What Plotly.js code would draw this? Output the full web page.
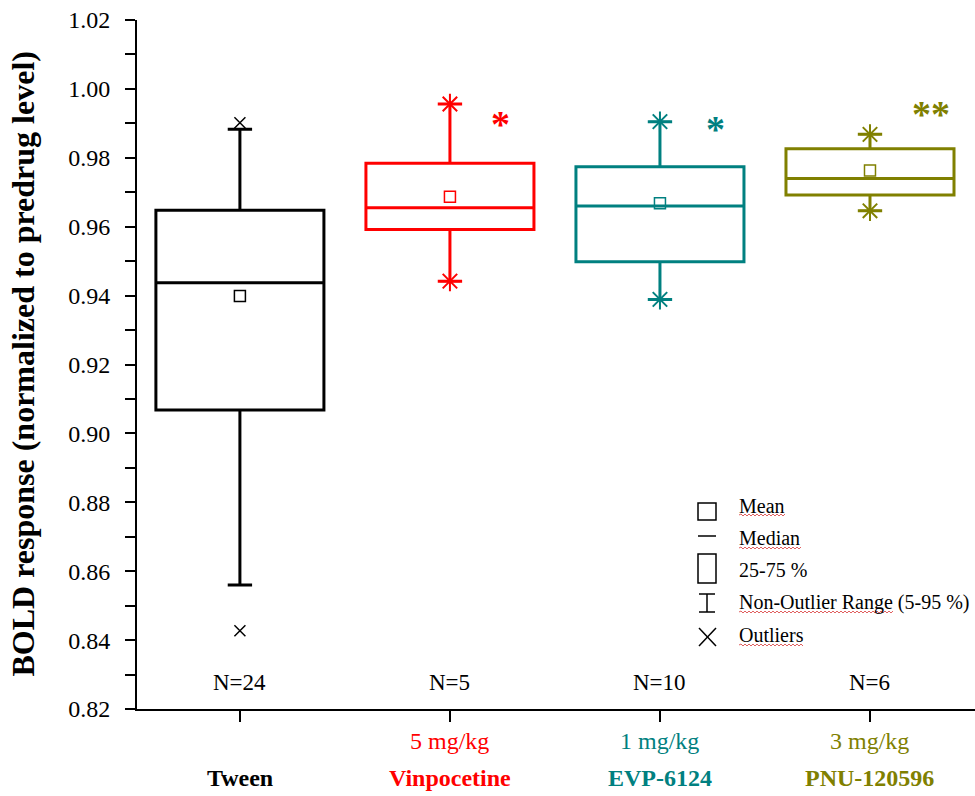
<!DOCTYPE html>
<html>
<head>
<meta charset="utf-8">
<script src="https://cdn.plot.ly/plotly-3.0.1.min.js"></script>
<style>
  html, body { margin: 0; padding: 0; background: #ffffff; }
  #chart { width: 975px; height: 796px; }
</style>
</head>
<body>
<div id="chart"></div>
<script>
// Groups and box statistics (BOLD response, normalized to predrug level)
const groups = ['Tween', 'Vinpocetine', 'EVP-6124', 'PNU-120596'];
const doses = ['', '5 mg/kg', '1 mg/kg', '3 mg/kg'];
const colors = ['#000000', '#ff0000', '#008080', '#808000'];
const nLabels = ['N=24', 'N=5', 'N=10', 'N=6'];
const stars = ['', '*', '*', '**'];

const q1 = [0.9068, 0.9592, 0.9498, 0.9692];
const median = [0.9437, 0.9655, 0.9660, 0.9740];
const q3 = [0.9648, 0.9784, 0.9774, 0.9826];
const mean = [0.9399, 0.9687, 0.9668, 0.9763];
const whiskerLow = [0.8560, 0.9442, 0.9389, 0.9646];
const whiskerHigh = [0.9883, 0.9956, 0.9905, 0.9868];

// Outlying values for the Tween group
const tweenOutliers = [0.9902, 0.8427];

// Significance marker placement (x offset from group, y in data units)
const starDx = [0, 0.241, 0.265, 0.29];
const starY = [0, 0.9919, 0.9905, 0.9948];

const FONT = 'Liberation Serif';

// plot frame in pixels, used for the hand-drawn legend
const L = 137, T = 20, W = 838, H = 689;
const px = v => (v - L) / W;
const py = v => (T + H - v) / H;

const traces = [];
groups.forEach((g, i) => {
  traces.push({
    type: 'box',
    x: [i],
    q1: [q1[i]], median: [median[i]], q3: [q3[i]],
    lowerfence: [whiskerLow[i]], upperfence: [whiskerHigh[i]],
    width: 0.8,
    whiskerwidth: 0.145,
    boxpoints: false,
    line: { color: colors[i], width: 3 },
    fillcolor: 'rgba(0,0,0,0)',
    hoverinfo: 'skip',
    showlegend: false
  });
  traces.push({
    type: 'scatter', mode: 'markers',
    x: [i], y: [mean[i]],
    marker: { symbol: 'square-open', size: 11, color: colors[i], line: { color: colors[i], width: 1.5 } },
    hoverinfo: 'skip', showlegend: false
  });
  if (i > 0) {
    // minimum and maximum of the group sit on the whisker ends
    traces.push({
      type: 'scatter', mode: 'markers',
      x: [i, i], y: [whiskerLow[i], whiskerHigh[i]],
      marker: { symbol: 'asterisk-open', size: 17, color: colors[i], line: { color: colors[i], width: 2 } },
      hoverinfo: 'skip', showlegend: false
    });
  }
});
traces.push({
  type: 'scatter', mode: 'markers',
  x: tweenOutliers.map(() => 0), y: tweenOutliers,
  marker: { symbol: 'x-thin-open', size: 11, color: '#000000', line: { color: '#000000', width: 1.5 } },
  hoverinfo: 'skip', showlegend: false
});

const annotations = [];
groups.forEach((g, i) => {
  annotations.push({
    x: i, y: 0.8278, xref: 'x', yref: 'y', text: nLabels[i], showarrow: false,
    font: { family: FONT, size: 23, color: '#000000' }, xanchor: 'center', yanchor: 'middle'
  });
  if (doses[i]) {
    annotations.push({
      x: i, y: py(741), xref: 'x', yref: 'paper', text: doses[i], showarrow: false,
      font: { family: FONT, size: 24, color: colors[i] }, xanchor: 'center', yanchor: 'middle'
    });
  }
  annotations.push({
    x: i, y: py(778), xref: 'x', yref: 'paper', text: '<b>' + g + '</b>', showarrow: false,
    font: { family: FONT, size: 24, color: colors[i] }, xanchor: 'center', yanchor: 'middle'
  });
  if (stars[i]) {
    annotations.push({
      x: i + starDx[i], y: starY[i], xref: 'x', yref: 'y', text: '<b>' + stars[i] + '</b>', showarrow: false,
      font: { family: FONT, size: 38, color: colors[i] }, xanchor: 'center', yanchor: 'middle', yshift: -7
    });
  }
});

// y-axis title
annotations.push({
  x: px(22), y: 0.5, xref: 'paper', yref: 'paper', textangle: -90,
  text: '<b>BOLD response (normalized to predrug level)</b>', showarrow: false,
  font: { family: FONT, size: 32, color: '#000000' }, xanchor: 'center', yanchor: 'middle'
});

// legend entries
const legendText = [
  ['Mean', 506], ['Median', 538], ['25-75 %', 570], ['Non-Outlier Range (5-95 %)', 602], ['Outliers', 635]
];
legendText.forEach(([t, y]) => {
  annotations.push({
    x: px(737), y: py(y), xref: 'paper', yref: 'paper', text: t, showarrow: false,
    font: { family: FONT, size: 20, color: '#000000' }, xanchor: 'left', yanchor: 'middle'
  });
});

const ln = { color: '#000000', width: 1.5 };
const shapes = [
  { type: 'rect', xref: 'paper', yref: 'paper', x0: px(698), x1: px(716), y0: py(503), y1: py(520), line: ln },
  { type: 'line', xref: 'paper', yref: 'paper', x0: px(698), x1: px(716), y0: py(536), y1: py(536), line: ln },
  { type: 'rect', xref: 'paper', yref: 'paper', x0: px(698), x1: px(716), y0: py(554), y1: py(583), line: ln },
  { type: 'line', xref: 'paper', yref: 'paper', x0: px(707), x1: px(707), y0: py(594), y1: py(612), line: ln },
  { type: 'line', xref: 'paper', yref: 'paper', x0: px(699), x1: px(715), y0: py(594), y1: py(594), line: ln },
  { type: 'line', xref: 'paper', yref: 'paper', x0: px(699), x1: px(715), y0: py(612), y1: py(612), line: ln },
  { type: 'line', xref: 'paper', yref: 'paper', x0: px(699), x1: px(716), y0: py(628), y1: py(646), line: ln },
  { type: 'line', xref: 'paper', yref: 'paper', x0: px(699), x1: px(716), y0: py(646), y1: py(628), line: ln }
];
// spell-check style wavy underlines beneath legend words
[[739, 786, 515], [739, 801, 548], [739, 893, 612], [739, 804, 645]].forEach(([a, b, y]) => {
  let path = 'M ' + a + ' ' + y;
  let up = true;
  for (let xx = a + 2; xx <= b; xx += 2) {
    path += ' L ' + xx + ' ' + (up ? y - 1 : y + 1);
    up = !up;
  }
  shapes.push({ type: 'path', xref: 'paper', yref: 'paper', xsizemode: 'pixel', ysizemode: 'pixel',
    xanchor: 0, yanchor: 0, path: path.replace(/([ML]) (\d+) (\d+)/g, (m, c, x, y) => c + ' ' + (x - L) + ' ' + (T + H - y)),
    line: { color: '#e06060', width: 1 } });
});

const layout = {
  width: 975, height: 796,
  margin: { l: L, r: 975 - L - W, t: T, b: 796 - T - H },
  paper_bgcolor: '#ffffff', plot_bgcolor: '#ffffff',
  showlegend: false,
  font: { family: FONT, color: '#000000' },
  xaxis: {
    range: [-0.49, 3.5], tickvals: [0, 1, 2, 3], showticklabels: false,
    ticks: 'outside', ticklen: 11, tickwidth: 2, tickcolor: '#000000',
    showline: true, linecolor: '#000000', linewidth: 2,
    showgrid: false, zeroline: false, fixedrange: true
  },
  yaxis: {
    range: [0.82, 1.02], dtick: 0.02, tick0: 0.82, tickformat: '.2f',
    ticks: 'outside', ticklen: 10, tickwidth: 2, tickcolor: '#000000',
    minor: { dtick: 0.01, ticks: 'outside', ticklen: 10, tickwidth: 2, tickcolor: '#000000', showgrid: false },
    ticklabelstandoff: 10,
    tickfont: { family: FONT, size: 24, color: '#000000' },
    showline: true, linecolor: '#000000', linewidth: 2,
    showgrid: false, zeroline: false, fixedrange: true
  },
  annotations: annotations,
  shapes: shapes
};

Plotly.newPlot('chart', traces, layout, { staticPlot: true, displayModeBar: false });
</script>
</body>
</html>
